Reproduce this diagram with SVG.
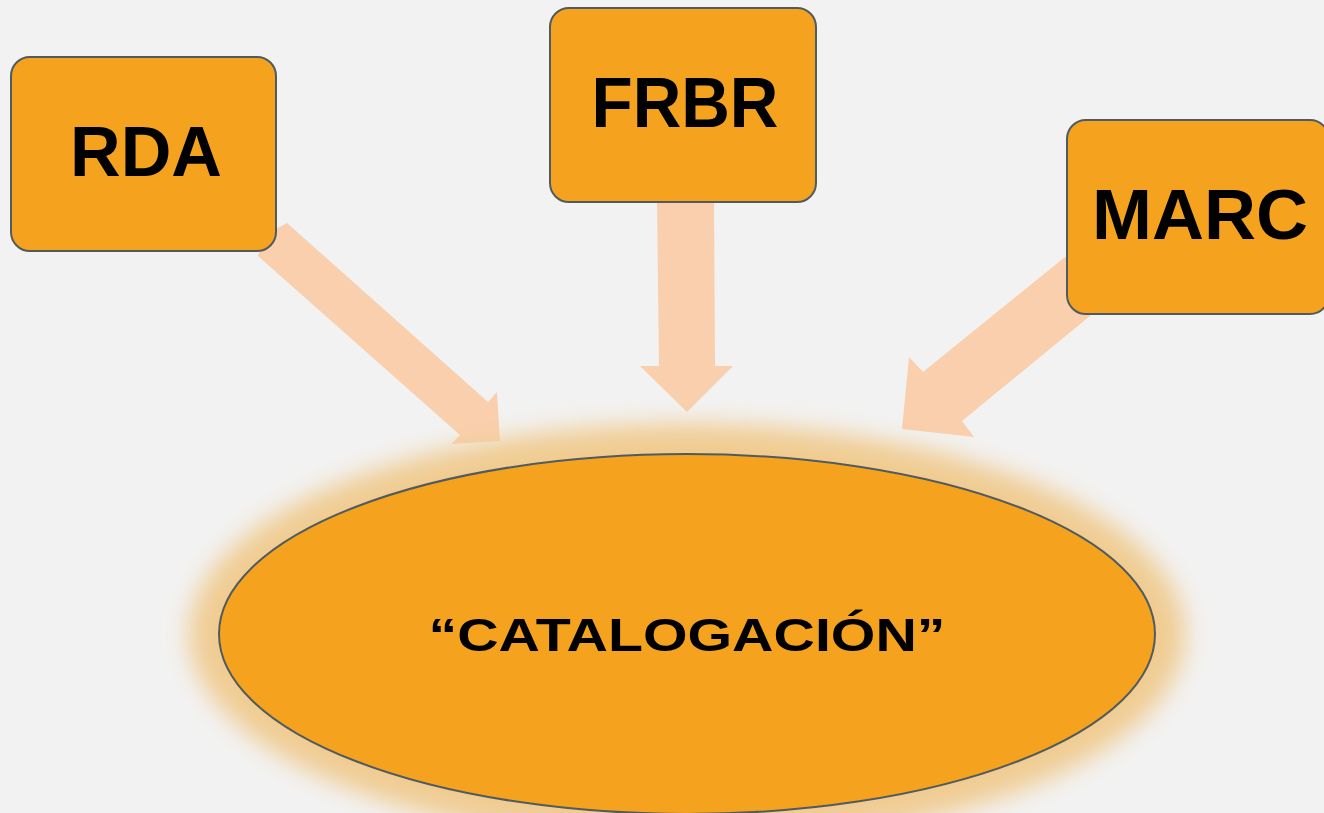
<svg xmlns="http://www.w3.org/2000/svg" width="1324" height="813" viewBox="0 0 1324 813">
  <style>
    .box { fill: #f5a31f; stroke: #505b60; stroke-width: 2; }
    .arrow { fill: #f9cfad; }
    .lbl { font-family: "Liberation Sans", Arial, sans-serif; font-weight: bold; fill: #000; text-anchor: middle; }
  </style>
  <defs>
    <filter id="glow" x="-20%" y="-30%" width="140%" height="160%">
      <feGaussianBlur stdDeviation="12"/>
    </filter>
  </defs>
  <rect width="1324" height="813" fill="#f2f2f2"/>

  <g id="connectors">
    <polygon class="arrow" points="287,223 488,402 497,392 500,441 451,444 460,435 258,256 265,235"/>
    <polygon class="arrow" points="657,200 714,200 715,366 733,366 687,412 640,366 659,366"/>
    <polygon class="arrow" points="1065,257 923,372 909,357 902,429 974,437 962,421 1090,316 1100,290"/>
  </g>

  <g id="catalogacion">
    <ellipse cx="687" cy="634" rx="498" ry="210" fill="#f0cc92" filter="url(#glow)"/>
    <ellipse cx="687" cy="634" rx="468" ry="180" class="box"/>
    <text class="lbl" x="687" y="651" font-size="47" textLength="517" lengthAdjust="spacingAndGlyphs">“CATALOGACIÓN”</text>
  </g>

  <g id="rda">
    <rect class="box" x="11" y="57" width="265" height="194" rx="19"/>
    <text class="lbl" x="146" y="176" font-size="70" textLength="152" lengthAdjust="spacingAndGlyphs">RDA</text>
  </g>

  <g id="frbr">
    <rect class="box" x="550" y="8" width="266" height="194" rx="19"/>
    <text class="lbl" x="685" y="127" font-size="70" textLength="187" lengthAdjust="spacingAndGlyphs">FRBR</text>
  </g>

  <g id="marc">
    <rect class="box" x="1067" y="120" width="262" height="194" rx="19"/>
    <text class="lbl" x="1200" y="239" font-size="70" textLength="216" lengthAdjust="spacingAndGlyphs">MARC</text>
  </g>
</svg>
